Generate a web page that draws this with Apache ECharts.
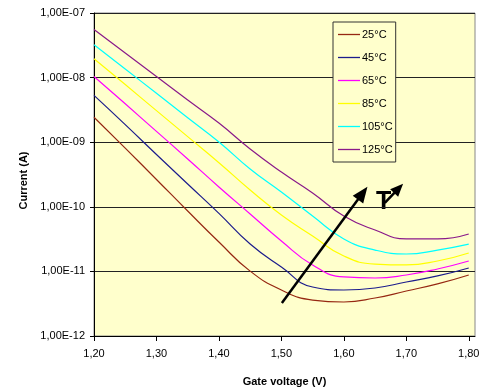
<!DOCTYPE html>
<html>
<head>
<meta charset="utf-8">
<script src="https://cdn.jsdelivr.net/npm/echarts@6/dist/echarts.min.js"></script>
<style>
  html, body { margin: 0; padding: 0; background: #fff; }
  #chart { width: 497px; height: 390px; }
</style>
</head>
<body>
<div id="chart"></div>
<script>
// gate voltage (V)
const voltage = [1.20, 1.25, 1.30, 1.35, 1.40, 1.45, 1.50, 1.55, 1.60, 1.65, 1.70, 1.75, 1.80]
const xTicks = [1.20, 1.30, 1.40, 1.50, 1.60, 1.70, 1.80]
const temps = ['25°C', '45°C', '65°C', '85°C', '105°C', '125°C']

// current (A), one list per temperature
const i25 = [2.43e-9, 8.1e-10, 2.65e-10, 8.6e-11, 2.85e-11, 1.01e-11, 5.15e-12, 3.6e-12, 3.36e-12, 3.87e-12, 4.97e-12, 6.4e-12, 8.8e-12]
const i45 = [5.3e-9, 1.87e-9, 6.45e-10, 2.25e-10, 7.9e-11, 2.65e-11, 1.17e-11, 5.74e-12, 5.15e-12, 5.53e-12, 6.86e-12, 8.5e-12, 1.13e-11]
const i65 = [1.04e-8, 3.93e-9, 1.47e-9, 5.5e-10, 2.03e-10, 7.74e-11, 2.96e-11, 1.26e-11, 8.2e-12, 7.9e-12, 8.8e-12, 1.09e-11, 1.45e-11]
const i85 = [1.96e-8, 7.8e-9, 3.08e-9, 1.22e-9, 4.82e-10, 1.82e-10, 7.46e-11, 3.53e-11, 1.73e-11, 1.3e-11, 1.26e-11, 1.45e-11, 1.93e-11]
const i105 = [3.23e-8, 1.36e-8, 5.71e-9, 2.39e-9, 1.01e-9, 3.85e-10, 1.69e-10, 7.2e-11, 3.18e-11, 2.14e-11, 1.86e-11, 2.14e-11, 2.65e-11]
const i125 = [5.55e-8, 2.4e-8, 1.04e-8, 4.5e-9, 1.98e-9, 7.85e-10, 3.46e-10, 1.64e-10, 7.2e-11, 4.38e-11, 3.18e-11, 3.18e-11, 3.79e-11]

const currents = [i25, i45, i65, i85, i105, i125]
const colors = ['#962812', '#1c1c8c', '#ff00ff', '#ffff00', '#00ffff', '#8a1a8a']

const font = 'Liberation Sans, Arial, sans-serif'

const chart = echarts.init(document.getElementById('chart'))

const series = temps.map((name, k) => ({
  name: name,
  type: 'line',
  symbol: 'none',
  smooth: 0.5,
  lineStyle: { color: colors[k], width: 1.2 },
  itemStyle: { color: colors[k] },
  data: voltage.map((v, i) => [v, currents[k][i]])
}))

// arrow showing rising temperature
series.push({
  type: 'line',
  data: [],
  silent: true,
  markLine: {
    silent: true,
    animation: false,
    label: { show: false },
    lineStyle: { color: '#000', width: 2.5, type: 'solid' },
    data: [
      [
        { coord: [1.5008, 3.24e-12], symbol: 'none' },
        { coord: [1.6302, 1.63e-10], symbol: 'triangle', symbolSize: [13, 16] }
      ],
      [
        { coord: [1.6656, 1.15e-10], symbol: 'none' },
        { coord: [1.6877, 1.93e-10], symbol: 'triangle', symbolSize: [11, 13] }
      ]
    ]
  }
})

const option = {
  animation: false,
  backgroundColor: '#fff',
  textStyle: { fontFamily: font },
  grid: {
    left: 94,
    right: 22,
    top: 13,
    bottom: 54,
    show: true,
    backgroundColor: '#ffffcc',
    borderColor: '#888',
    borderWidth: 1,
    outerBoundsMode: 'none'
  },
  legend: {
    data: temps,
    orient: 'vertical',
    left: 333,
    top: 22,
    padding: [7, 3, 7, 5],
    icon: 'path://M0,0 L22,0 L22,1.3 L0,1.3 Z',
    itemWidth: 22,
    itemHeight: 12,
    itemGap: 12,
    backgroundColor: '#ffffcc',
    borderColor: '#333',
    borderWidth: 1,
    textStyle: { color: '#000', fontSize: 11, fontFamily: font, padding: [0, 0, 0, -3] }
  },
  graphic: [
    {
      type: 'text',
      left: 376,
      top: 190,
      style: { text: 'T', fill: '#000', font: 'bold 25px ' + font }
    }
  ],
  xAxis: {
    type: 'value',
    min: 1.2,
    max: 1.81,
    name: 'Gate voltage (V)',
    nameLocation: 'middle',
    nameGap: 40,
    nameTextStyle: { color: '#000', fontSize: 11, fontWeight: 'bold', fontFamily: font },
    axisLine: { show: true, lineStyle: { color: '#000', width: 1 } },
    axisTick: { show: true, length: 5, customValues: xTicks, lineStyle: { color: '#000' } },
    axisLabel: {
      customValues: xTicks,
      margin: 12,
      color: '#000',
      fontSize: 11,
      fontFamily: font,
      formatter: (v) => v.toFixed(2).replace('.', ',')
    },
    splitLine: { show: false }
  },
  yAxis: {
    type: 'log',
    logBase: 10,
    min: 1e-12,
    max: 1e-7,
    interval: 1,
    name: 'Current (A)',
    nameLocation: 'middle',
    nameGap: 57,
    nameTextStyle: { color: '#000', fontSize: 11, fontWeight: 'bold', fontFamily: font, padding: [0, 12, 0, 0] },
    axisLine: { show: true, lineStyle: { color: '#000', width: 1 } },
    axisTick: { show: true, length: 4, lineStyle: { color: '#000' } },
    axisLabel: {
      margin: 9,
      color: '#000',
      fontSize: 11,
      fontFamily: font,
      formatter: (v) => {
        const e = Math.round(Math.log10(v))
        return '1,00E' + (e < 0 ? '-' : '+') + String(Math.abs(e)).padStart(2, '0')
      }
    },
    splitLine: { show: true, lineStyle: { color: '#222', width: 1 } }
  },
  series: series
}

chart.setOption(option)
</script>
</body>
</html>
